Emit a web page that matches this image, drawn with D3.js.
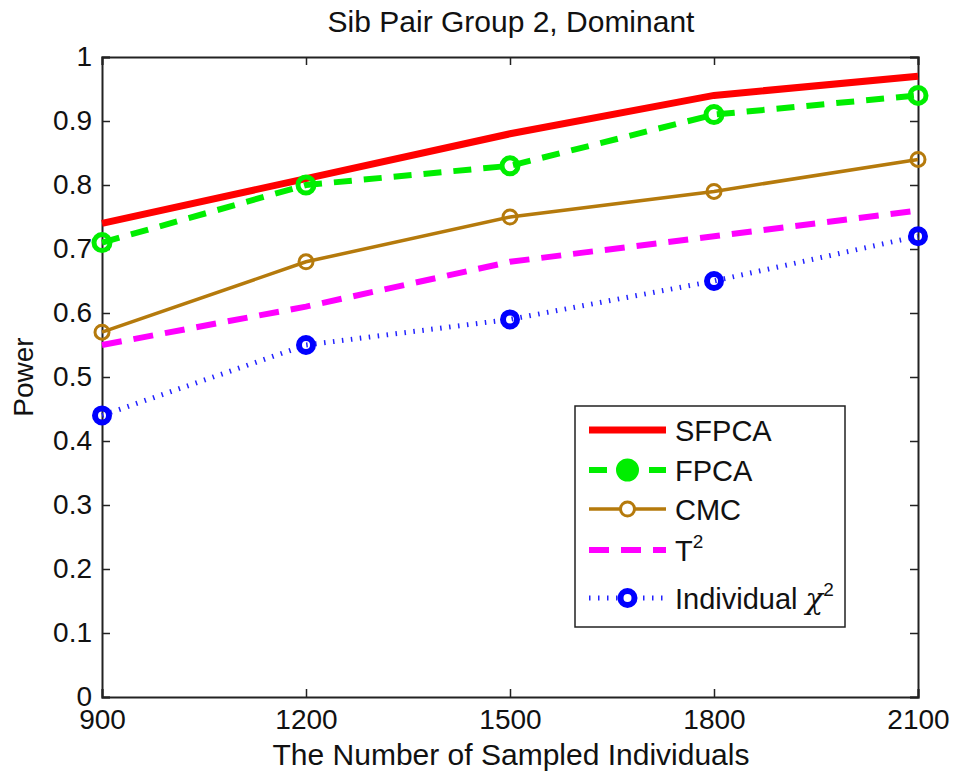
<!DOCTYPE html>
<meta charset="utf-8">
<script src="https://d3js.org/d3.v7.min.js"></script>
<style>
body { margin: 0; background: #fff; }
text { font-family: "Liberation Sans", Arial, sans-serif; fill: #111; }
</style>
<div id="chart"></div>
<script>

// sample sizes and power values
var sizes = [900, 1200, 1500, 1800, 2100];
var sfpca = [0.74, 0.81, 0.88, 0.94, 0.97];
var fpca = [0.71, 0.80, 0.83, 0.91, 0.94];
var cmc = [0.57, 0.68, 0.75, 0.79, 0.84];
var t2 = [0.55, 0.61, 0.68, 0.72, 0.76];
var indiv = [0.44, 0.55, 0.59, 0.65, 0.72];
var yTicks = [0, 0.1, 0.2, 0.3, 0.4, 0.5, 0.6, 0.7, 0.8, 0.9, 1];

var series = [
  {name: "SFPCA", values: sfpca, color: "#ff0000", width: 7, dash: null, marker: null},
  {name: "FPCA", values: fpca, color: "#00ee00", width: 6, dash: "18,12", marker: {r: 8, sw: 5}},
  {name: "CMC", values: cmc, color: "#b57a0c", width: 3.5, dash: null, marker: {r: 7, sw: 3}},
  {name: "T", sup: "2", values: t2, color: "#ff00ff", width: 6, dash: "20,12", marker: null},
  {name: "Individual ", chi: true, values: indiv, color: "#2222ff", width: 5, dash: "1.5,7.5", marker: {r: 7, sw: 6}}
];

var margin = {top: 57, right: 36, bottom: 79, left: 102},
    width = 954 - margin.left - margin.right,
    height = 776 - margin.top - margin.bottom;

var svg = d3.select("#chart").append("svg")
    .attr("width", 954)
    .attr("height", 776);

var g = svg.append("g")
    .attr("transform", "translate(" + margin.left + "," + margin.top + ")");

var x = d3.scaleLinear().domain([900, 2100]).range([0, width]);
var y = d3.scaleLinear().domain([0, 1]).range([height, 0]);

// axes (MATLAB style: ticks inside, box around)
var xAxis = g.append("g")
    .attr("transform", "translate(0," + height + ")")
    .call(d3.axisBottom(x).tickValues(sizes).tickSize(-8).tickPadding(15).tickFormat(d3.format("d")));
var yAxis = g.append("g")
    .call(d3.axisLeft(y).tickValues(yTicks).tickSize(-8).tickPadding(10).tickFormat(function(d) { return d === 0 || d === 1 ? d : d3.format(".1f")(d); }));
g.append("g")
    .call(d3.axisTop(x).tickValues(sizes).tickSize(-8).tickFormat(""));
g.append("g")
    .attr("transform", "translate(" + width + ",0)")
    .call(d3.axisRight(y).tickValues(yTicks).tickSize(-8).tickFormat(""));

g.selectAll(".domain").attr("stroke", "#222").attr("stroke-width", 2);
g.selectAll(".tick line").attr("stroke", "#222").attr("stroke-width", 1.5);
g.selectAll(".tick text").style("font-size", "28px").attr("fill", "#111");
xAxis.selectAll(".tick text").attr("dy", "0.62em");

var line = d3.line()
    .x(function(d, i) { return x(sizes[i]); })
    .y(function(d) { return y(d); });

series.forEach(function(s) {
  g.append("path")
    .datum(s.values)
    .attr("fill", "none")
    .attr("stroke", s.color)
    .attr("stroke-width", s.width)
    .attr("stroke-dasharray", s.dash)
    .attr("d", line);
  if (s.marker) {
    g.selectAll(null)
      .data(s.values)
      .enter().append("circle")
      .attr("cx", function(d, i) { return x(sizes[i]); })
      .attr("cy", function(d) { return y(d); })
      .attr("r", s.marker.r)
      .attr("fill", "none")
      .attr("stroke", s.color === "#2222ff" ? "#0000ff" : s.color)
      .attr("stroke-width", s.marker.sw);
  }
});

// title and axis labels
svg.append("text")
    .attr("x", 511).attr("y", 32)
    .attr("text-anchor", "middle")
    .style("font-size", "30px")
    .text("Sib Pair Group 2, Dominant");

svg.append("text")
    .attr("x", 511).attr("y", 765)
    .attr("text-anchor", "middle")
    .style("font-size", "30px")
    .text("The Number of Sampled Individuals");

svg.append("text")
    .attr("transform", "translate(33,377) rotate(-90)")
    .attr("text-anchor", "middle")
    .style("font-size", "28px")
    .text("Power");

// legend
var legend = svg.append("g");
legend.append("rect")
    .attr("x", 575).attr("y", 406)
    .attr("width", 270).attr("height", 221)
    .attr("fill", "#fff")
    .attr("stroke", "#222")
    .attr("stroke-width", 1.5);

var rowY = [430, 470, 509, 550, 598];
series.forEach(function(s, i) {
  var ly = rowY[i];
  legend.append("line")
    .attr("x1", 589).attr("x2", 666)
    .attr("y1", ly).attr("y2", ly)
    .attr("stroke", s.color)
    .attr("stroke-width", s.width)
    .attr("stroke-dasharray", s.dash);
  if (s.marker) {
    legend.append("circle")
      .attr("cx", 627.5).attr("cy", ly)
      .attr("r", s.name === "FPCA" ? 9 : s.marker.r)
      .attr("fill", s.name === "FPCA" ? s.color : "#fff")
      .attr("stroke", s.color === "#2222ff" ? "#0000ff" : s.color)
      .attr("stroke-width", s.marker.sw);
  }
  var t = legend.append("text")
    .attr("x", 675).attr("y", ly + 11)
    .style("font-size", "29px")
    .text(s.name);
  if (s.sup) {
    t.append("tspan").attr("dy", -13).style("font-size", "19px").text(s.sup);
  }
  if (s.chi) {
    t.append("tspan").style("font-family", "'DejaVu Serif', serif").style("font-style", "italic").text("\u03c7");
    t.append("tspan").attr("dy", -13).style("font-size", "19px").text("2");
  }
});

</script>
